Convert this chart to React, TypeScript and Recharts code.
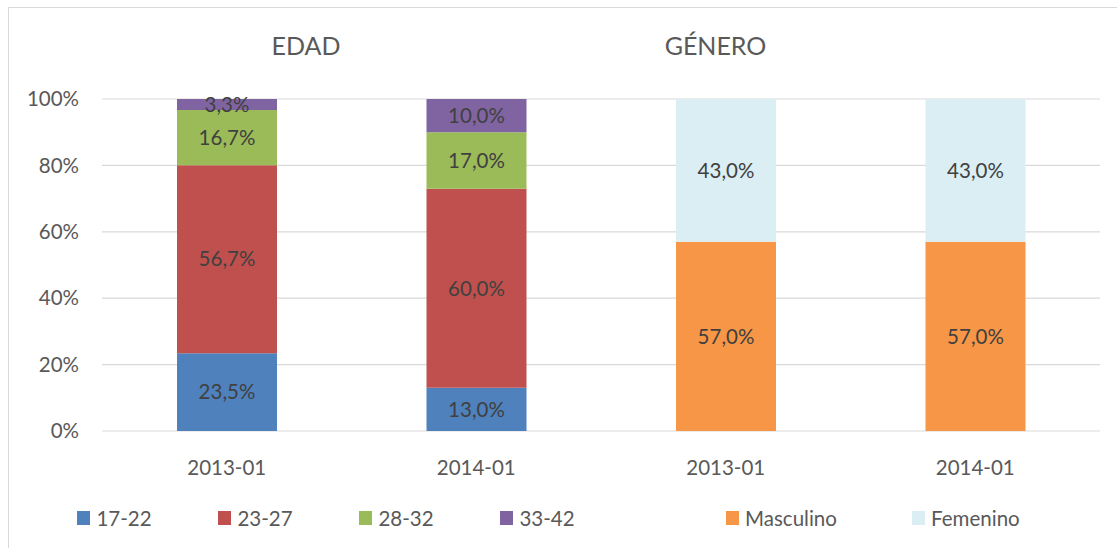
import React from 'react';
import { BarChart, Bar, XAxis, YAxis, CartesianGrid, LabelList } from 'recharts';

const categories = ['2013-01', '2014-01', '2013-01', '2014-01'];
const age1722 = [23.5, 13.0, null, null];
const age2327 = [56.7, 60.0, null, null];
const age2832 = [16.7, 17.0, null, null];
const age3342 = [3.3, 10.0, null, null];
const masculino = [null, null, 57.0, 57.0];
const femenino = [null, null, 43.0, 43.0];
const yTicks = [0, 0.2, 0.4, 0.6, 0.8, 1];
const titles = ['EDAD', 'GÉNERO'];

const series = [
  { key: 'a1722', name: '17-22', values: age1722, color: '#4F81BD' },
  { key: 'a2327', name: '23-27', values: age2327, color: '#C0504D' },
  { key: 'a2832', name: '28-32', values: age2832, color: '#9BBB59' },
  { key: 'a3342', name: '33-42', values: age3342, color: '#8064A2' },
  { key: 'masc', name: 'Masculino', values: masculino, color: '#F79646' },
  { key: 'fem', name: 'Femenino', values: femenino, color: '#DBEEF3' },
];

const data = categories.map((c, i) => {
  const row: Record<string, any> = { period: c };
  series.forEach((s) => {
    row[s.key] = s.values[i] === null ? undefined : s.values[i];
  });
  return row;
});

const fmtLabel = (v: any) =>
  v === undefined || v === null ? '' : `${Number(v).toFixed(1).replace('.', ',')}%`;

const FONT = 'Lato, "Open Sans", sans-serif';
const legendWidths = [141, 141, 141, 225.7, 186, 150];

export default function App() {
  return (
    <div style={{ position: 'absolute', left: 0, top: 0, width: 1117, height: 548, background: '#fff', fontFamily: FONT, overflow: 'hidden' }}>
      <div style={{ position: 'absolute', left: 8, top: 7, width: 1200, height: 600, borderLeft: '1px solid #D9D9D9', borderTop: '1px solid #D9D9D9' }} />
      <div style={{ position: 'absolute', left: 0, top: 0 }}>
        <BarChart
          width={1117}
          height={548}
          data={data}
          stackOffset="expand"
          margin={{ top: 99, right: 17, bottom: 57, left: 0 }}
        >
          <CartesianGrid vertical={false} stroke="#D9D9D9" strokeWidth={1.2} />
          <XAxis
            dataKey="period"
            axisLine={false}
            tickLine={false}
            height={60}
            tickMargin={23}
            tick={{ fill: '#595959', fontSize: 20.5, fontFamily: FONT }}
          />
          <YAxis
            width={102}
            domain={[0, 1]}
            ticks={yTicks}
            axisLine={false}
            tickLine={false}
            tickMargin={17}
            tickFormatter={(v: number) => `${Math.round(v * 100)}%`}
            tick={{ fill: '#595959', fontSize: 20.5, fontFamily: FONT }}
          />
          {series.map((s) => (
            <Bar key={s.key} dataKey={s.key} name={s.name} stackId="a" fill={s.color} barSize={100} isAnimationActive={false}>
              <LabelList
                dataKey={s.key}
                position="center"
                formatter={fmtLabel}
                style={{ fill: '#404040', fontSize: 20.5, fontFamily: FONT }}
              />
            </Bar>
          ))}
        </BarChart>
      </div>
      <svg width={1117} height={548} style={{ position: 'absolute', left: 0, top: 0, pointerEvents: 'none' }}>
        <text x={306} y={55} textAnchor="middle" fill="#595959" fontSize={25} fontFamily={FONT}>{titles[0]}</text>
        <text x={715.5} y={55} textAnchor="middle" fill="#595959" fontSize={25} fontFamily={FONT}>{titles[1]}</text>
      </svg>
      <div style={{ position: 'absolute', left: 77, top: 508, display: 'flex', alignItems: 'center' }}>
        {series.map((s, i) => (
          <div key={s.key} style={{ width: legendWidths[i], display: 'flex', alignItems: 'center' }}>
            <div style={{ width: 13.4, height: 13.4, background: s.color, marginRight: 6 }} />
            <span style={{ fontSize: 20.5, color: '#595959', lineHeight: '20px' }}>{s.name}</span>
          </div>
        ))}
      </div>
    </div>
  );
}
